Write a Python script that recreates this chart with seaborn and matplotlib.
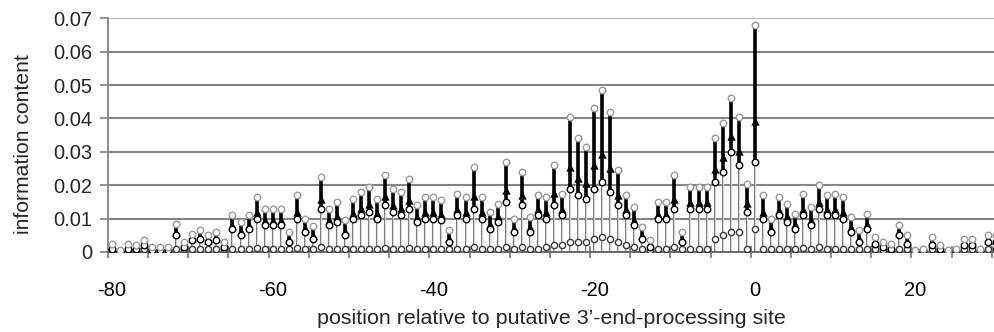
import numpy as np
import pandas as pd
import matplotlib
matplotlib.use("Agg")
import matplotlib.pyplot as plt
import seaborn as sns

positions = list(range(-80, 31))

top_values = [
    0.0025, 0.0005, 0.0025, 0.002, 0.0035, 0.0015, 0.0015, 0.0015, 0.0085, 0.003,
    0.0055, 0.0065, 0.005, 0.006, 0.003, 0.011, 0.009, 0.011, 0.0165, 0.013,
    0.013, 0.013, 0.006, 0.017, 0.010, 0.0078, 0.0225, 0.013, 0.015, 0.0095,
    0.016, 0.018, 0.0195, 0.016, 0.023, 0.019, 0.018, 0.022, 0.014, 0.0165,
    0.0165, 0.0155, 0.0065, 0.0175, 0.0165, 0.0255, 0.0165, 0.012, 0.0145, 0.027,
    0.010, 0.024, 0.0105, 0.017, 0.0165, 0.026, 0.0175, 0.0405, 0.034, 0.0315,
    0.043, 0.0485, 0.042, 0.0245, 0.017, 0.0135, 0.0075, 0.0035, 0.015, 0.015,
    0.023, 0.006, 0.0195, 0.0195, 0.0195, 0.034, 0.0385, 0.046, 0.0405, 0.0205,
    0.068, 0.017, 0.010, 0.0165, 0.0145, 0.0115, 0.0175, 0.0135, 0.020, 0.017,
    0.0175, 0.0165, 0.0105, 0.0065, 0.0115, 0.0045, 0.003, 0.0025, 0.008, 0.005,
    0.0005, 0.001, 0.0045, 0.002, 0.0005, 0.001, 0.004, 0.004, 0.001, 0.005,
    0.005,
]

mid_values = [
    0.001, 0.0, 0.001, 0.001, 0.002, 0.0005, 0.0005, 0.0005, 0.005, 0.0015,
    0.0035, 0.004, 0.003, 0.0035, 0.0015, 0.007, 0.005, 0.007, 0.010, 0.008,
    0.008, 0.008, 0.003, 0.010, 0.006, 0.004, 0.013, 0.008, 0.009, 0.005,
    0.010, 0.011, 0.012, 0.010, 0.014, 0.012, 0.011, 0.013, 0.009, 0.010,
    0.010, 0.0095, 0.003, 0.011, 0.010, 0.013, 0.010, 0.007, 0.009, 0.015,
    0.006, 0.014, 0.006, 0.011, 0.010, 0.014, 0.011, 0.019, 0.017, 0.016,
    0.019, 0.021, 0.018, 0.014, 0.011, 0.008, 0.004, 0.0015, 0.010, 0.010,
    0.013, 0.003, 0.013, 0.013, 0.013, 0.021, 0.024, 0.030, 0.026, 0.012,
    0.027, 0.010, 0.006, 0.011, 0.009, 0.007, 0.011, 0.008, 0.013, 0.011,
    0.011, 0.010, 0.006, 0.003, 0.007, 0.0025, 0.0015, 0.001, 0.005, 0.0025,
    0.0, 0.0005, 0.002, 0.001, 0.0, 0.0005, 0.002, 0.002, 0.0005, 0.003,
    0.003,
]

low_values = [
    0.0005, 0.0, 0.0005, 0.0005, 0.0008, 0.0003, 0.0003, 0.0003, 0.001, 0.0008,
    0.001, 0.001, 0.001, 0.001, 0.0008, 0.001, 0.001, 0.001, 0.0012, 0.001,
    0.001, 0.001, 0.001, 0.0012, 0.001, 0.001, 0.0015, 0.001, 0.001, 0.001,
    0.001, 0.001, 0.001, 0.001, 0.0012, 0.001, 0.001, 0.0012, 0.001, 0.001,
    0.001, 0.001, 0.0008, 0.001, 0.001, 0.0015, 0.001, 0.001, 0.001, 0.0015,
    0.001, 0.0015, 0.001, 0.001, 0.0015, 0.002, 0.002, 0.003, 0.003, 0.003,
    0.004, 0.0045, 0.004, 0.003, 0.002, 0.0015, 0.001, 0.0005, 0.001, 0.001,
    0.0015, 0.001, 0.001, 0.001, 0.001, 0.004, 0.005, 0.006, 0.006, 0.001,
    0.007, 0.001, 0.001, 0.001, 0.001, 0.001, 0.0012, 0.001, 0.0015, 0.001,
    0.001, 0.001, 0.001, 0.0008, 0.001, 0.0008, 0.0005, 0.0005, 0.001, 0.0008,
    0.0, 0.0003, 0.0008, 0.0005, 0.0, 0.0003, 0.0008, 0.0008, 0.0003, 0.001,
    0.001,
]

x_tick_labels = ["-80", "-60", "-40", "-20", "0", "20"]
y_tick_labels = ["0", "0.01", "0.02", "0.03", "0.04", "0.05", "0.06", "0.07"]

df = pd.DataFrame({"position": positions, "top": top_values,
                   "mid": mid_values, "low": low_values})

sns.set_theme(style="white")
plt.rcParams["font.family"] = ["Liberation Sans", "DejaVu Sans"]

fig = plt.figure(figsize=(9.95, 3.32), dpi=100)
ax = fig.add_axes([0.1085, 0.241, 0.8915, 0.704])

# grid lines
for v in np.arange(0.01, 0.0705, 0.01):
    c = "#b5b5b5" if v > 0.065 else "#858585"
    ax.axhline(v, color=c, lw=1.5, zorder=1)

# drop lines
ax.vlines(df["position"], 0, df["top"], color="#7d7d7d", lw=1.5, zorder=2)
ax.vlines(df["position"], 0, df["mid"], color="white", lw=0.5, zorder=2.1)
# black segments
ax.vlines(df["position"], df["mid"], df["top"], color="black", lw=2.6, zorder=3)
tri_y = df["mid"] + 0.3 * (df["top"] - df["mid"])
sns.scatterplot(x=df["position"], y=tri_y, marker="^", color="black",
                s=36, linewidth=0, ax=ax, zorder=4)

sns.scatterplot(data=df, x="position", y="low", marker="o", color="white",
                edgecolor="#3a3a3a", linewidth=1.0, s=20, ax=ax, zorder=5)
sns.scatterplot(data=df, x="position", y="mid", marker="o", color="white",
                edgecolor="black", linewidth=1.0, s=22, ax=ax, zorder=5)
sns.scatterplot(data=df, x="position", y="top", marker="o", color="white",
                edgecolor="#9a9a9a", linewidth=1.0, s=22, ax=ax, zorder=6)

ax.set_xlim(-80.5, 29.9)
ax.set_ylim(0, 0.07)

ax.set_xticks([-80, -60, -40, -20, 0, 20])
ax.set_xticklabels(x_tick_labels)
ax.set_xticks(np.arange(-80.5, 30, 5), minor=True)
ax.tick_params(axis="x", which="major", length=0, pad=21, labelsize=14.5,
               colors="black")
ax.tick_params(axis="x", which="minor", length=8, direction="inout",
               color="#777777", width=1.2, bottom=True)

ax.set_yticks(np.arange(0, 0.0705, 0.01))
ax.set_yticklabels(y_tick_labels)
ax.tick_params(axis="y", which="major", length=6, direction="out",
               color="#8a8a8a", width=1.3, pad=5, labelsize=14.5, left=True)

for s in ["top", "right"]:
    ax.spines[s].set_visible(False)
ax.spines["left"].set_color("#8a8a8a")
ax.spines["left"].set_linewidth(1.4)
ax.spines["bottom"].set_color("#6a6a6a")
ax.spines["bottom"].set_linewidth(1.4)

ax.set_xlabel("position relative to putative 3\u2019-end-processing site",
              fontsize=15.4)
ax.xaxis.set_label_coords(0.5, -0.245)
ax.set_ylabel("information content", fontsize=15.2)
ax.yaxis.set_label_coords(-0.0846, 0.4615)

fig.savefig("out.png", dpi=100)
